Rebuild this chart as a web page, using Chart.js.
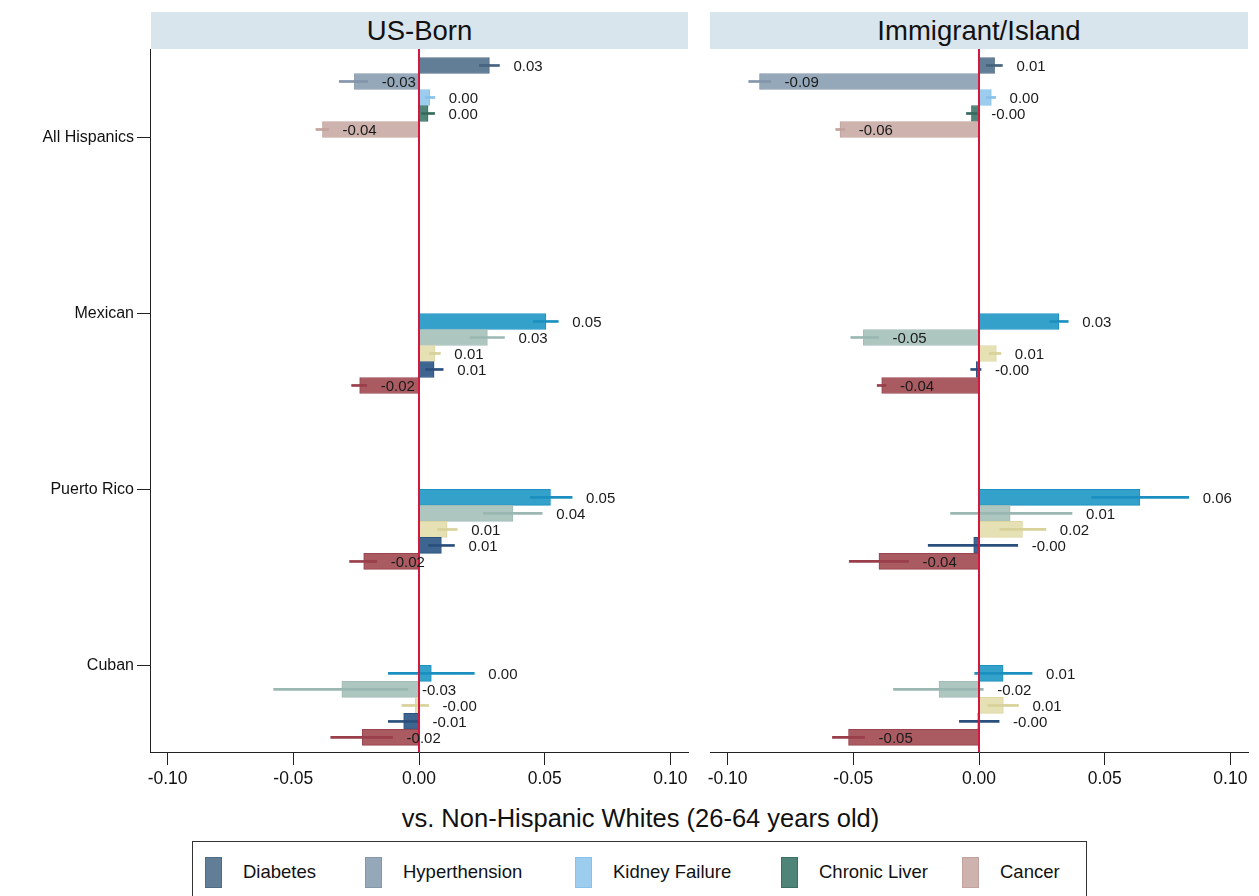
<!DOCTYPE html>
<html><head><meta charset="utf-8">
<script src="https://cdn.jsdelivr.net/npm/chart.js@4/dist/chart.umd.min.js"></script>
<style>
body{margin:0;background:#fff;font-family:"Liberation Sans",Arial,sans-serif;}
#wrap{position:relative;width:1259px;height:896px;overflow:hidden;background:#fff;}
.strip{position:absolute;top:12px;height:37px;background:#d9e5ec;font-size:27.5px;line-height:38px;text-align:center;color:#111;}
canvas{position:absolute;top:0;}
#xtitle{position:absolute;left:0;width:1259px;top:804px;text-align:center;font-size:25.5px;color:#111;padding-left:22px;box-sizing:border-box;}
#legend{position:absolute;left:192px;top:841px;width:893px;height:60px;border:1px solid #333;}
.lg{position:absolute;top:14px;height:32px;display:flex;align-items:center;font-size:18.5px;color:#111;}
.sw{width:17px;height:31px;box-sizing:border-box;border:1px solid;margin-right:21px;}
</style></head>
<body><div id="wrap">
<div class="strip" style="left:151px;width:537px;">US-Born</div>
<div class="strip" style="left:710px;width:538px;">Immigrant/Island</div>
<canvas id="c1" width="700" height="800" style="left:0;width:700px;height:800px;"></canvas>
<canvas id="c2" width="559" height="800" style="left:700px;width:559px;height:800px;"></canvas>
<div id="xtitle">vs. Non-Hispanic Whites (26-64 years old)</div>
<div id="legend"></div>
</div>
<script>
// ---- data ----
const categories = ['All Hispanics','Mexican','Puerto Rico','Cuban'];
const conditions = ['Diabetes','Hyperthension','Kidney Failure','Chronic Liver','Cancer'];
const xTicks = [-0.10,-0.05,0.00,0.05,0.10];

// rows: categories; columns: conditions
const usBornEst = [
  [0.028,-0.0257,0.0043,0.0036,-0.0384],
  [0.0505,0.0272,0.0064,0.006,-0.0236],
  [0.0523,0.0374,0.0112,0.0089,-0.022],
  [0.0049,-0.0307,-0.0015,-0.0061,-0.0226]];
const usBornLo = [
  [0.024,-0.0317,0.0025,0.001,-0.041],
  [0.0455,0.0203,0.0042,0.0027,-0.0268],
  [0.0443,0.0256,0.0074,0.0038,-0.0276],
  [-0.0122,-0.0578,-0.0068,-0.0122,-0.0351]];
const usBornHi = [
  [0.032,-0.0204,0.0063,0.0062,-0.036],
  [0.0554,0.034,0.0085,0.0096,-0.0208],
  [0.0609,0.049,0.0152,0.0141,-0.0168],
  [0.022,-0.0044,0.0038,-0.0002,-0.0105]];

const immEst = [
  [0.0062,-0.0873,0.0049,-0.003,-0.0553],
  [0.0317,-0.046,0.0069,-0.0011,-0.0387],
  [0.064,0.0124,0.0173,-0.0021,-0.0398],
  [0.0096,-0.0159,0.0097,-0.0005,-0.0519]];
const immLo = [
  [0.0029,-0.0916,0.003,-0.005,-0.057],
  [0.0282,-0.051,0.004,-0.0033,-0.0405],
  [0.0448,-0.0113,0.0083,-0.0202,-0.0516],
  [-0.0017,-0.034,0.0036,-0.0078,-0.0583]];
const immHi = [
  [0.0093,-0.0829,0.0066,-0.0007,-0.0534],
  [0.0355,-0.040,0.0087,0.0008,-0.037],
  [0.0834,0.037,0.0266,0.0154,-0.028],
  [0.0211,0.0017,0.0157,0.008,-0.0455]];

// ---- layout / style ----
const GROUP_START = [0,16,27,38];      // row slot of first bar of each category
const LABEL_ROW = [4.5,15.5,26.5,37.5]; // row slot of category labels
const Y_MIN = -1.03, Y_MAX = 42.91;
const FONT = '"Liberation Sans", Arial, sans-serif';

const fillAH  = ['#627e96','#95a8ba','#9ccdef','#4f8578','#cdb2ad'];
const lineAH  = ['#4f6c86','#8497ab','#88c2ec','#3b6f63','#c3a39e'];
const errAH   = ['#45637e','#8395aa','#86c1ec','#35695c','#c1a29c'];
const fillOth = ['#33a1c9','#aec6c0','#e6e1b4','#3d6590','#a95b61'];
const lineOth = ['#1d92c2','#a0bcb5','#ddd7a4','#2b5280','#9a4450'];
const errOth  = ['#1b90c0','#9ab8b1','#d8d19a','#2a4f7c','#993e4a'];

function colorOf(arrAH, arrOth){
  return ctx => {
    const i = ctx.dataIndex, c = Math.floor(i/5), k = i%5;
    return c === 0 ? arrAH[k] : arrOth[k];
  };
}

function flat(est, lo, hi){
  const bars = [], errs = [], his = [];
  est.forEach((row,c)=>row.forEach((v,k)=>{
    const r = GROUP_START[c]+k;
    bars.push({x:v, y:r});
    errs.push({x:[lo[c][k], hi[c][k]], y:r});
    his.push({v, hi:hi[c][k], r});
  }));
  return {bars, errs, his};
}

const annot = {
  id:'annot',
  afterDatasetsDraw(chart, args, opts){
    const {ctx, chartArea} = chart;
    const x = chart.scales.x, y = chart.scales.y;
    ctx.save();
    const x0 = Math.round(x.getPixelForValue(0));
    ctx.strokeStyle = '#d4173e'; ctx.lineWidth = 2;
    ctx.beginPath(); ctx.moveTo(x0, chartArea.top); ctx.lineTo(x0, chartArea.bottom); ctx.stroke();
    ctx.font = '15px ' + FONT; ctx.fillStyle = '#1a1a1a';
    ctx.textAlign = 'left'; ctx.textBaseline = 'middle';
    opts.items.forEach(it=>{
      ctx.fillText(it.v.toFixed(2), x.getPixelForValue(it.hi)+14, y.getPixelForValue(it.r)+1);
    });
    ctx.restore();
  }
};

function makeChart(id, est, lo, hi, showY){
  const d = flat(est, lo, hi);
  const yScale = {
    type:'linear', reverse:true, min:Y_MIN, max:Y_MAX, display: showY, offset:false,
    afterBuildTicks: s => { s.ticks = LABEL_ROW.map(v=>({value:v})); },
    ticks:{callback:(v,i)=>categories[i], font:{size:16, family:FONT}, color:'#111', padding:3, autoSkip:false},
    grid:{drawOnChartArea:false, tickLength:13, color:'#222', offset:false},
    border:{display:true, color:'#222', width:1},
    afterFit: s => { s.width = showY ? 150 : 0; s.paddingTop = 0; s.paddingBottom = 0; }
  };
  return new Chart(document.getElementById(id), {
    type:'bar',
    data:{datasets:[
      {data:d.errs, backgroundColor:colorOf(errAH, errOth), borderWidth:0, barThickness:2, grouped:false, order:0},
      {data:d.bars, backgroundColor:colorOf(fillAH, fillOth), borderColor:colorOf(lineAH, lineOth), borderWidth:1, borderSkipped:false,
       barPercentage:1, categoryPercentage:1, grouped:false, order:1}
    ]},
    options:{
      indexAxis:'y', responsive:false, animation:false,
      layout:{padding: showY ? {top:49, right:12, left:0, bottom:0} : {top:49, left:10, right:11, bottom:0}},
      scales:{
        x:{type:'linear', min:-0.107, max:0.107, offset:false,
          afterBuildTicks: s => { s.ticks = xTicks.map(v=>({value:v})); },
          ticks:{callback:v=>Number(v).toFixed(2), font:{size:17.5, family:FONT}, color:'#111', padding:4, autoSkip:false, maxRotation:0},
          grid:{drawOnChartArea:false, tickLength:13, color:'#222', offset:false},
          border:{color:'#222', width:1},
          afterFit: s => { s.height = 48; s.paddingLeft = 0; s.paddingRight = 0; }
        },
        y:yScale
      },
      plugins:{legend:{display:false}, tooltip:{enabled:false}, annot:{items:d.his}}
    },
    plugins:[annot]
  });
}

makeChart('c1', usBornEst, usBornLo, usBornHi, true);
makeChart('c2', immEst, immLo, immHi, false);

// legend (colours of the "All Hispanics" series)
const LEG_LEFT = [12,172,382,588,769];
const lg = document.getElementById('legend');
conditions.forEach((name,k)=>{
  const it = document.createElement('div');
  it.className = 'lg'; it.style.left = LEG_LEFT[k]+'px';
  it.innerHTML = '<div class="sw" style="background:'+fillAH[k]+';border-color:'+lineAH[k]+'"></div><span>'+name+'</span>';
  lg.appendChild(it);
});
</script>
</body></html>
